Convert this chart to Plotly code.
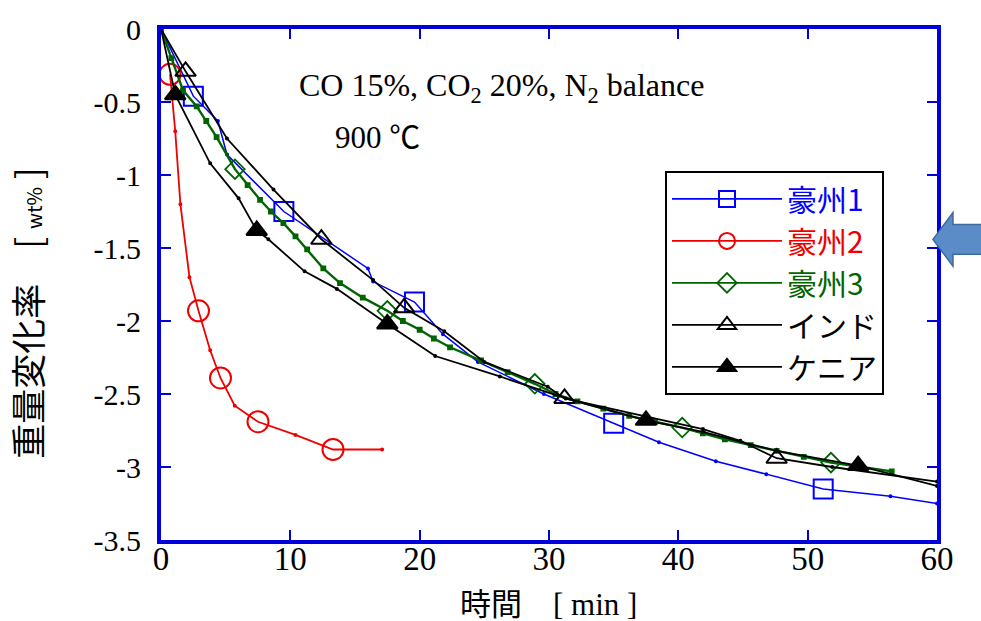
import plotly.graph_objects as go

# ---- measured weight change [wt%] vs time [min] at 900 C ----
# 豪州1
t1 = [0, 2.5, 4.4, 5.1, 9.5, 16.0, 16.4, 19.6, 21.8, 24.5, 29.6, 35.0, 38.5, 42.9, 46.8, 51.2, 56.4, 60.0]
w1 = [0, -0.46, -0.63, -0.86, -1.25, -1.64, -1.73, -1.87, -2.09, -2.28, -2.50, -2.70, -2.83, -2.96, -3.05, -3.15, -3.20, -3.25]
m1 = [2.5, 9.5, 19.6, 35.0, 51.2]

# 豪州2
t2 = [0.7, 1.1, 1.5, 2.2, 2.9, 3.8, 4.6, 5.7, 7.5, 10.4, 13.3, 17.1]
w2 = [-0.31, -0.70, -1.20, -1.70, -1.93, -2.20, -2.39, -2.58, -2.69, -2.78, -2.88, -2.88]
m2 = [0.7, 2.9, 4.6, 7.5, 13.3]

# 豪州3
t3 = [0, 0.8, 1.7, 2.76, 3.5, 4.3, 5.72, 6.7, 7.66, 8.5, 9.46, 10.4, 11.3, 12.55, 13.84,
      15.6, 17.5, 18.7, 20.0, 21.1, 22.35, 24.75, 26.8, 28.9, 30.5, 32.2, 34.2, 36.2,
      38.2, 40.3, 41.9, 43.6, 45.6, 47.6, 49.7, 51.8, 54.2, 56.5]
w3 = [0, -0.20, -0.42, -0.53, -0.63, -0.74, -0.96, -1.07, -1.17, -1.25, -1.33, -1.42, -1.51, -1.64, -1.74,
      -1.84, -1.93, -2.00, -2.06, -2.12, -2.18, -2.27, -2.35, -2.43, -2.50, -2.55, -2.60, -2.65,
      -2.69, -2.73, -2.77, -2.81, -2.85, -2.89, -2.93, -2.97, -3.00, -3.03]
m3 = [5.72, 17.5, 28.9, 40.3, 51.8]

# インド
t4 = [0, 1.9, 5.1, 8.7, 12.4, 16.4, 18.8, 21.9, 25.0, 29.9, 31.2, 41.9, 44.8, 47.6, 51.9, 60.0]
w4 = [0, -0.29, -0.75, -1.10, -1.44, -1.72, -1.91, -2.07, -2.28, -2.45, -2.53, -2.74, -2.82, -2.94, -3.00, -3.10]
m4 = [1.9, 12.4, 18.8, 31.2, 47.6]

# ケニア
t5 = [0, 1.1, 3.8, 6.0, 7.4, 8.3, 11.1, 13.6, 17.5, 21.2, 26.2, 31.3, 37.5, 41.9, 47.6, 53.9, 60.0]
w5 = [0, -0.45, -0.92, -1.16, -1.38, -1.44, -1.66, -1.78, -2.02, -2.24, -2.38, -2.53, -2.68, -2.76, -2.89, -2.99, -3.13]
m5 = [1.1, 7.4, 17.5, 37.5, 53.9]

names = ["豪州1", "豪州2", "豪州3", "インド", "ケニア"]

x_ticks = [0, 10, 20, 30, 40, 50, 60]
x_ticktext = ["0", "10", "20", "30", "40", "50", "60"]
y_ticks = [0, -0.5, -1, -1.5, -2, -2.5, -3, -3.5]
y_ticktext = ["0", "-0.5", "-1", "-1.5", "-2", "-2.5", "-3", "-3.5"]

# ---- styling ----
AXIS_BLUE = "#0000DD"
SERIF = "Liberation Serif, Times New Roman, serif"
JP = "Noto Sans CJK JP, sans-serif"
MIXED = "Liberation Serif, Noto Sans CJK JP, serif"

# figure pixel geometry
W, H = 981, 621
L, R, T, B = 161, 44, 25, 81
PW, PH = W - L - R, H - T - B


def px(xp):
    return (xp - L) / PW


def py(yp):
    return (H - B - yp) / PH


fig = go.Figure()


def add_series(name, color, t, w, marked, symbol, big, dot_symbol, dot_size, lw=1.8, mlw=2.0):
    symbols = [symbol if tv in marked else dot_symbol for tv in t]
    sizes = [big if tv in marked else dot_size for tv in t]
    # the measured curve, with symbols on every n-th sample
    fig.add_trace(go.Scatter(
        x=t, y=w, mode="lines+markers", showlegend=False, legendgroup=name,
        line=dict(color=color, width=lw),
        marker=dict(symbol=symbols, size=sizes, color=color, opacity=1,
                    line=dict(color=color, width=mlw)),
    ))
    # legend entry for the curve
    fig.add_trace(go.Scatter(
        x=[None], y=[None], mode="lines+markers", legendgroup=name,
        name=f'<span style="color:{color}">{name}</span>',
        line=dict(color=color, width=1.8),
        marker=dict(symbol=symbol, size=big, color=color, opacity=1,
                    line=dict(color=color, width=mlw)),
    ))


add_series(names[0], "#0000FF", t1, w1, m1, "square-open", 19, "circle", 2, lw=1.5)
add_series(names[1], "#EE0000", t2, w2, m2, "circle-open", 21, "circle", 2)
add_series(names[2], "#006400", t3, w3, m3, "diamond-open", 15, "square", 4, lw=2.4, mlw=1.8)
add_series(names[3], "#000000", t4, w4, m4, "triangle-up-open", 18, "circle", 2)
add_series(names[4], "#000000", t5, w5, m5, "triangle-up", 18, "circle", 2)

axis_common = dict(
    showline=True, linecolor=AXIS_BLUE, linewidth=4, mirror="ticks",
    ticks="inside", tickcolor=AXIS_BLUE, ticklen=10, tickwidth=2,
    showgrid=False, zeroline=False, tickmode="array",
)

fig.update_xaxes(range=[0, 60], tickvals=x_ticks, ticktext=x_ticktext,
                 tickfont=dict(family=SERIF, size=33, color="black"),
                 ticklabelstandoff=-14, **axis_common)
fig.update_yaxes(range=[-3.5, 0], tickvals=y_ticks, ticktext=y_ticktext,
                 tickfont=dict(family=SERIF, size=30, color="black"),
                 ticklabelstandoff=10, **axis_common)

annotations = [
    dict(text="CO 15%, CO<sub>2</sub> 20%, N<sub>2</sub> balance",
         x=px(297), y=py(84), xanchor="left", yanchor="middle",
         font=dict(family=SERIF, size=32, color="black")),
    dict(text="900 ℃", x=px(333), y=py(134), xanchor="left", yanchor="middle",
         font=dict(family=MIXED, size=31, color="black")),
    dict(text="時間　[ min ]", x=px(548), y=py(605), xanchor="center", yanchor="middle",
         font=dict(family=MIXED, size=31, color="black")),
    dict(text="重量変化率　[ <span style='font-size:20px'>wt%</span> ]", textangle=-90,
         x=px(27), y=py(312), xanchor="center", yanchor="middle",
         font=dict(family=JP, size=35, color="black")),
]
for a in annotations:
    a.update(xref="paper", yref="paper", showarrow=False)

# block arrow pointing at the right-hand axis
arrow_pts = [(933, 237), (953, 210), (953, 222), (986, 222), (986, 252), (953, 252), (953, 264)]
path = "M " + " L ".join(f"{px(a):.4f},{py(b):.4f}" for a, b in arrow_pts) + " Z"

fig.update_layout(
    width=W, height=H,
    margin=dict(l=L, r=R, t=T, b=B, pad=0),
    paper_bgcolor="white", plot_bgcolor="white",
    annotations=annotations,
    shapes=[dict(type="path", path=path, xref="paper", yref="paper",
                 fillcolor="#5B8CC8", line=dict(color="#3E6A9E", width=1.5), layer="above")],
    legend=dict(x=px(665), y=py(168), xanchor="left", yanchor="top",
                bgcolor="white", bordercolor="black", borderwidth=2,
                font=dict(family=JP, size=30, color="black"),
                itemwidth=110, tracegroupgap=0),
    showlegend=True,
)

fig.write_html("out.html")
